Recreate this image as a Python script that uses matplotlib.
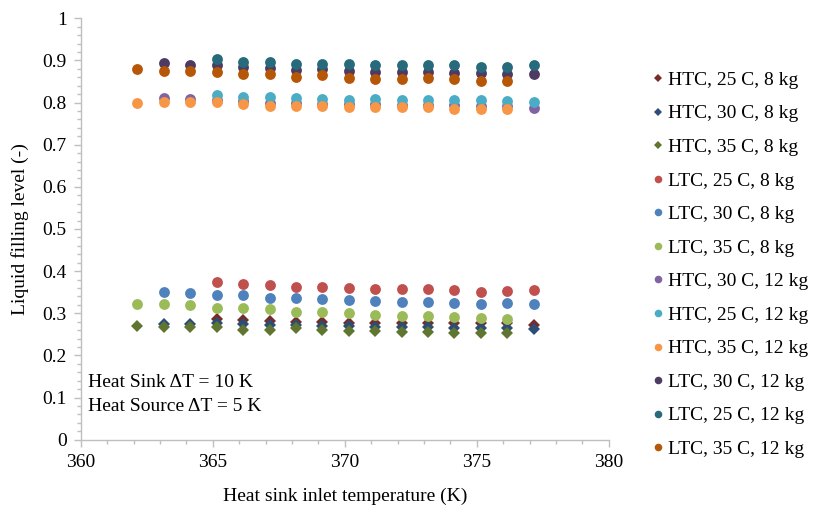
import matplotlib
matplotlib.use('Agg')
import matplotlib.pyplot as plt
import numpy as np
from matplotlib.ticker import MultipleLocator, FuncFormatter

plt.rcParams['font.family'] = ['Liberation Serif', 'DejaVu Serif']
plt.rcParams['font.size'] = 14

# heat sink inlet temperatures (K) for each group of runs
t25 = [365.15, 366.15, 367.15, 368.15, 369.15, 370.15, 371.15, 372.15,
       373.15, 374.15, 375.15, 376.15, 377.15]
t30 = [363.15, 364.15] + t25
t35 = [362.15, 363.15, 364.15, 365.15, 366.15, 367.15, 368.15, 369.15,
       370.15, 371.15, 372.15, 373.15, 374.15, 375.15, 376.15]

# liquid filling levels
htc_25_8 = [0.286, 0.284, 0.282, 0.280, 0.280, 0.278, 0.278, 0.278,
            0.278, 0.276, 0.276, 0.276, 0.273]
htc_30_8 = [0.275, 0.275, 0.277, 0.274, 0.273, 0.272, 0.270, 0.269,
            0.268, 0.268, 0.267, 0.266, 0.266, 0.265, 0.262]
htc_35_8 = [0.270, 0.268, 0.268, 0.268, 0.260, 0.260, 0.264, 0.260,
            0.258, 0.258, 0.255, 0.256, 0.254, 0.254, 0.254]
ltc_25_8 = [0.374, 0.370, 0.367, 0.363, 0.363, 0.361, 0.358, 0.358,
            0.358, 0.355, 0.351, 0.354, 0.355]
ltc_30_8 = [0.351, 0.349, 0.343, 0.343, 0.336, 0.336, 0.333, 0.332,
            0.329, 0.327, 0.327, 0.324, 0.321, 0.324, 0.321]
ltc_35_8 = [0.321, 0.321, 0.320, 0.313, 0.313, 0.310, 0.304, 0.302,
            0.300, 0.296, 0.294, 0.293, 0.292, 0.288, 0.286]
htc_30_12 = [0.810, 0.809, 0.806, 0.803, 0.800, 0.798, 0.797, 0.796,
             0.796, 0.795, 0.794, 0.793, 0.792, 0.791, 0.788]
htc_25_12 = [0.818, 0.814, 0.814, 0.810, 0.808, 0.806, 0.808, 0.806,
             0.806, 0.806, 0.806, 0.804, 0.802]
htc_35_12 = [0.798, 0.802, 0.801, 0.801, 0.796, 0.792, 0.792, 0.792,
             0.790, 0.790, 0.790, 0.790, 0.785, 0.784, 0.784]
ltc_30_12 = [0.895, 0.888, 0.889, 0.885, 0.881, 0.877, 0.879, 0.876,
             0.873, 0.873, 0.873, 0.871, 0.869, 0.868, 0.868]
ltc_25_12 = [0.903, 0.896, 0.896, 0.891, 0.892, 0.891, 0.889, 0.889,
             0.889, 0.888, 0.885, 0.885, 0.888]
ltc_35_12 = [0.879, 0.876, 0.875, 0.872, 0.868, 0.868, 0.860, 0.865,
             0.859, 0.857, 0.857, 0.858, 0.855, 0.850, 0.850]

series = [
    ('HTC, 25 C, 8 kg', t25, htc_25_8, 'D', '#772C2A'),
    ('HTC, 30 C, 8 kg', t30, htc_30_8, 'D', '#2C4D75'),
    ('HTC, 35 C, 8 kg', t35, htc_35_8, 'D', '#5F7530'),
    ('LTC, 25 C, 8 kg', t25, ltc_25_8, 'o', '#C0504D'),
    ('LTC, 30 C, 8 kg', t30, ltc_30_8, 'o', '#4F81BD'),
    ('LTC, 35 C, 8 kg', t35, ltc_35_8, 'o', '#9BBB59'),
    ('HTC, 30 C, 12 kg', t30, htc_30_12, 'o', '#8064A2'),
    ('HTC, 25 C, 12 kg', t25, htc_25_12, 'o', '#4BACC6'),
    ('HTC, 35 C, 12 kg', t35, htc_35_12, 'o', '#F79646'),
    ('LTC, 30 C, 12 kg', t30, ltc_30_12, 'o', '#4D3B62'),
    ('LTC, 25 C, 12 kg', t25, ltc_25_12, 'o', '#276A7C'),
    ('LTC, 35 C, 12 kg', t35, ltc_35_12, 'o', '#B65708'),
]

fig = plt.figure(figsize=(8.18, 5.07), dpi=100)
ax = fig.add_axes([0.0987, 0.1327, 0.6455, 0.8313])

for name, x, y, m, c in series:
    ms = 6.4 if m == 'D' else 7.8
    ax.plot(x, y, linestyle='none', marker=m, markersize=ms, color=c,
            markeredgewidth=0, label=name)

ax.set_xlim(360, 380)
ax.set_ylim(0, 1)
ax.xaxis.set_major_locator(MultipleLocator(5))
ax.xaxis.set_minor_locator(MultipleLocator(1))
ax.yaxis.set_major_locator(MultipleLocator(0.1))
ax.yaxis.set_minor_locator(MultipleLocator(0.02))
ax.yaxis.set_major_formatter(FuncFormatter(lambda v, p: '{:g}'.format(round(v, 2))))

for s in ['top', 'right']:
    ax.spines[s].set_visible(False)
for s in ['left', 'bottom']:
    ax.spines[s].set_color('#BFBFBF')
    ax.spines[s].set_linewidth(1.0)
ax.tick_params(which='both', direction='out', color='#BFBFBF', labelsize=14)
ax.tick_params(which='major', length=5, width=1, pad=5)
ax.tick_params(which='minor', length=3, width=1)

ax.set_xlabel('Heat sink inlet temperature (K)', fontsize=14, labelpad=12)
ax.set_ylabel('Liquid filling level (-)', fontsize=14, labelpad=10)

ax.text(0.014, 0.135, 'Heat Sink \u0394T = 10 K', transform=ax.transAxes,
        fontsize=14, va='center')
ax.text(0.014, 0.078, 'Heat Source \u0394T = 5 K', transform=ax.transAxes,
        fontsize=14, va='center')

fig.legend(loc='center left', bbox_to_anchor=(0.797, 0.478), frameon=False,
           fontsize=14, handlelength=0.6, handletextpad=0.25, markerscale=0.7,
           labelspacing=0.82, borderpad=0, borderaxespad=0)

fig.savefig('out.png', dpi=100)
